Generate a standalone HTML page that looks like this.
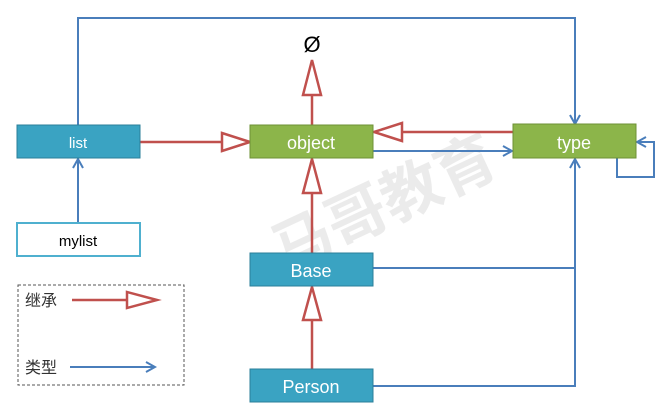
<!DOCTYPE html>
<html><head><meta charset="utf-8"><style>
body{margin:0;background:#fff;width:672px;height:414px;overflow:hidden}
svg{display:block}
text{font-family:"Liberation Sans","Noto Sans CJK SC",sans-serif}
</style></head><body>
<svg width="672" height="414" viewBox="0 0 672 414">
<defs>
<marker id="ba" markerWidth="12" markerHeight="12" refX="10" refY="6" orient="auto" markerUnits="userSpaceOnUse">
<path d="M1,1 L10,6 L1,11" fill="none" stroke="#4a7ebb" stroke-width="2"/></marker>
</defs>
<g opacity="0.12" fill="#666">
<text x="270" y="250" font-size="60" font-weight="bold" transform="rotate(-25 330 230)">马哥教育</text>
</g>
<!-- blue connectors -->
<g stroke="#4a7ebb" stroke-width="2" fill="none">
<polyline points="78,125 78,18 575,18 575,124" marker-end="url(#ba)"/>
<line x1="78" y1="223" x2="78" y2="159" marker-end="url(#ba)"/>
<line x1="373" y1="151" x2="512" y2="151" marker-end="url(#ba)"/>
<polyline points="617,158 617,177 654,177 654,142 637,142" marker-end="url(#ba)"/>
<polyline points="373,268 575,268"/>
<polyline points="373,386 575,386 575,159" marker-end="url(#ba)"/>
<line x1="70" y1="367" x2="155" y2="367" marker-end="url(#ba)"/>
</g>
<!-- red inheritance -->
<g stroke="#c0504d" stroke-width="2.5" fill="#fff">
<line x1="312" y1="125" x2="312" y2="95"/><polygon points="312,60 303,95 321,95"/>
<line x1="140" y1="142" x2="222" y2="142"/><polygon points="250,142 222,133 222,151"/>
<line x1="513" y1="132" x2="400" y2="132"/><polygon points="374,132 402,123 402,141"/>
<line x1="312" y1="253" x2="312" y2="193"/><polygon points="312,159 303,193 321,193"/>
<line x1="312" y1="369" x2="312" y2="320"/><polygon points="312,287 303,320 321,320"/>
<line x1="72" y1="300" x2="127" y2="300"/><polygon points="157,300 127,292 127,308"/>
</g>
<text x="312" y="52" font-size="22" text-anchor="middle" fill="#000">Ø</text>
<!-- boxes -->
<g font-size="18" text-anchor="middle" fill="#fff">
<rect x="17" y="125" width="123" height="33" fill="#3aa3c2" stroke="#2b7f99"/>
<text x="78" y="148" font-size="15" fill="#fff">list</text>
<rect x="250" y="125" width="123" height="33" fill="#8cb54a" stroke="#6e9136"/>
<text x="311" y="149" fill="#fff">object</text>
<rect x="513" y="124" width="123" height="34" fill="#8cb54a" stroke="#6e9136"/>
<text x="574" y="149" fill="#fff">type</text>
<rect x="17" y="223" width="123" height="33" fill="#fff" stroke="#4fb0cf" stroke-width="2"/>
<text x="78" y="246" font-size="15" fill="#000">mylist</text>
<rect x="250" y="253" width="123" height="33" fill="#3aa3c2" stroke="#2b7f99"/>
<text x="311" y="277" fill="#fff">Base</text>
<rect x="250" y="369" width="123" height="33" fill="#3aa3c2" stroke="#2b7f99"/>
<text x="311" y="393" fill="#fff">Person</text>
</g>
<rect x="18" y="285" width="166" height="100" fill="none" stroke="#555" stroke-dasharray="3,2"/>
<text x="25" y="306" font-size="16" fill="#333">继承</text>
<text x="25" y="373" font-size="16" fill="#333">类型</text>
</svg>
</body></html>
